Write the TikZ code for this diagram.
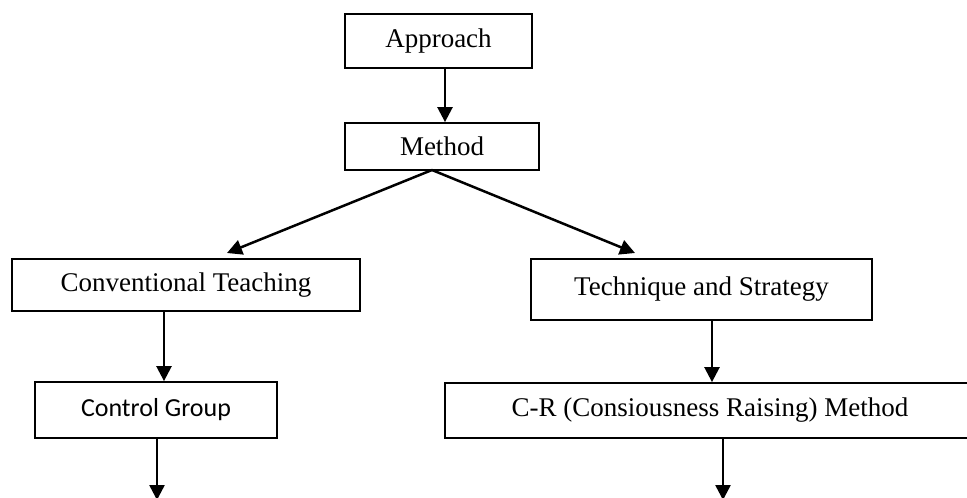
\documentclass[tikz,border=0pt]{standalone}
\usepackage{fontspec}
\setmainfont{Liberation Serif}
\newfontfamily\calib{Carlito}
\usetikzlibrary{arrows.meta}
\begin{document}
\begin{tikzpicture}[x=1pt,y=-1pt,
  box/.style={draw, line width=1.8pt, rectangle, inner sep=0pt, font=\fontsize{27}{30}\selectfont},
  arr/.style={line width=2.5pt, -{Triangle[width=15pt,length=15pt]}}]
\useasboundingbox (0,0) rectangle (967,498);
\clip (0,0) rectangle (967,498);
\node[box, minimum width=187pt, minimum height=54pt] (A) at (438.5,41) {Approach};
\node[box, minimum width=194pt, minimum height=47pt] (M) at (442,146.5) {Method};
\node[box, minimum width=348pt, minimum height=52pt] (CT) at (186,285) {Conventional Teaching};
\node[box, minimum width=341pt, minimum height=61pt] (TS) at (701.5,289.5) {Technique and Strategy};
\node[box, minimum width=242pt, minimum height=56pt, font=\calib\fontsize{26}{30}\selectfont] (CG) at (156,410) {Control Group};
\node[box, minimum width=530pt, minimum height=55pt] (CR) at (710,410.5) {C-R (Consiousness Raising) Method};
\coordinate (xa) at (445,0);
\coordinate (apex) at (432,170);
\coordinate (tipL) at (227,253);
\coordinate (tipR) at (635,253);
\coordinate (xct) at (164,0);
\coordinate (xts) at (712,0);
\coordinate (endL) at (157,500);
\coordinate (endR) at (723,500);
\draw[arr] (A.south -| xa) -- (M.north -| xa);
\draw[arr] (apex) -- (tipL);
\draw[arr] (apex) -- (tipR);
\draw[arr] (CT.south -| xct) -- (CG.north -| xct);
\draw[arr] (TS.south -| xts) -- (CR.north -| xts);
\draw[arr] (CG.south -| endL) -- (endL);
\draw[arr] (CR.south -| endR) -- (endR);
\end{tikzpicture}
\end{document}
